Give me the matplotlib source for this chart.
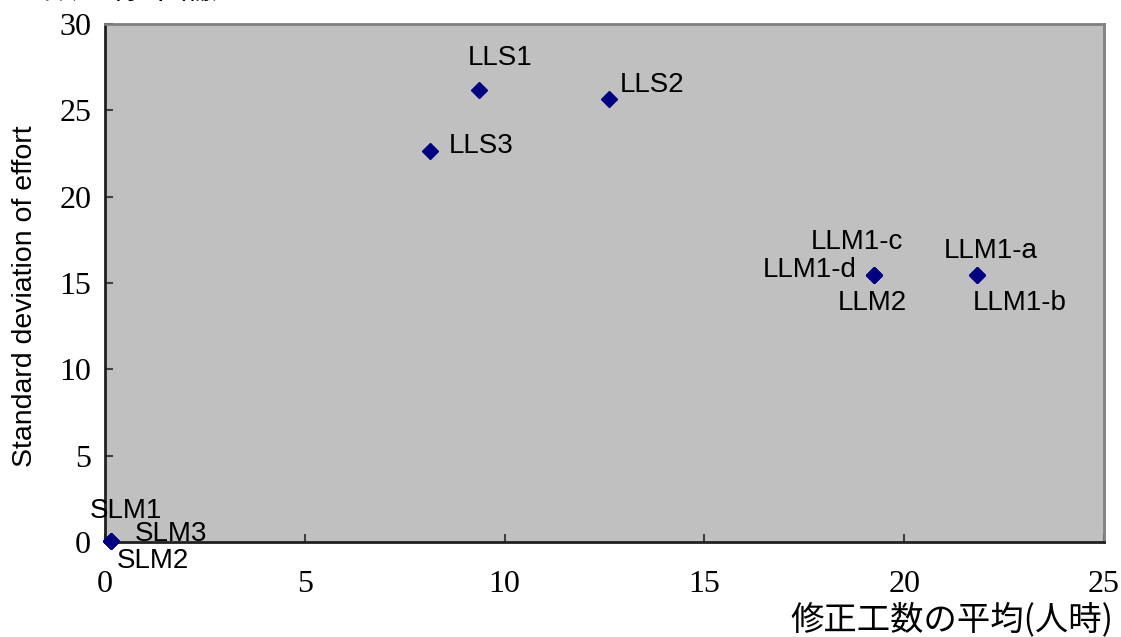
import matplotlib
matplotlib.use("Agg")
import matplotlib.pyplot as plt

plt.rcParams['font.family'] = ['Liberation Sans', 'Noto Sans CJK JP', 'DejaVu Sans']

# data
names = ['SLM1', 'SLM2', 'SLM3', 'LLS1', 'LLS2', 'LLS3',
         'LLM1-a', 'LLM1-b', 'LLM1-c', 'LLM1-d', 'LLM2']
mean_effort = [0.15, 0.15, 0.15, 9.36, 12.61, 8.13,
               21.82, 21.82, 19.24, 19.24, 19.24]
sd_effort = [0.05, 0.05, 0.05, 26.17, 25.65, 22.64,
             15.46, 15.46, 15.46, 15.46, 15.46]

# label offsets in points (dx, dy)
offsets = {
    'SLM1': (11, 22), 'SLM2': (30, -14), 'SLM3': (43, 5),
    'LLS1': (15, 23), 'LLS2': (31, 10), 'LLS3': (37, 4),
    'LLM1-a': (10, 17), 'LLM1-b': (31, -20),
    'LLM1-c': (-12, 24), 'LLM1-d': (-46, 4), 'LLM2': (-1, -20),
}

fig = plt.figure(figsize=(11.21, 6.37), dpi=100)
ax = fig.add_axes([0.0937, 0.1491, 0.8911, 0.8132])
ax.set_facecolor('#C0C0C0')

ax.plot(mean_effort, sd_effort, linestyle='none', marker='D',
        markersize=8, color='#000080', zorder=3, clip_on=False)

for n, x, y in zip(names, mean_effort, sd_effort):
    dx, dy = offsets[n]
    ax.annotate(n, (x, y), xytext=(dx, dy), textcoords='offset points',
                ha='center', va='center', fontsize=20, color='black')

ax.set_xlim(0, 25)
ax.set_ylim(0, 30)
ax.set_xticks([0, 5, 10, 15, 20, 25])
ax.set_yticks([0, 5, 10, 15, 20, 25, 30])
ax.tick_params(direction='in', length=6, width=1.5, color='#404040',
               labelsize=23, pad=10)
for lab in ax.get_xticklabels() + ax.get_yticklabels():
    lab.set_family('Liberation Serif')
ax.tick_params(axis='x', pad=20)

for s in ['left', 'bottom']:
    ax.spines[s].set_color('#202020')
    ax.spines[s].set_linewidth(2)
for s in ['top', 'right']:
    ax.spines[s].set_color('#808080')
    ax.spines[s].set_linewidth(2)

ax.set_ylabel('Standard deviation of effort', fontsize=20.5)
ax.yaxis.set_label_coords(-0.067, 0.475)
fig.text(1113 / 1121, 1 - 620 / 637, '修正工数の平均(人時)', ha='right',
         va='center', fontsize=24, family=['Noto Sans CJK JP'])
fig.text(245 / 1121, 1 + 12 / 637, '修正工数の標準偏差', ha='right',
         va='center', fontsize=24, family=['Noto Sans CJK JP'])

fig.savefig('out.png', dpi=100)
